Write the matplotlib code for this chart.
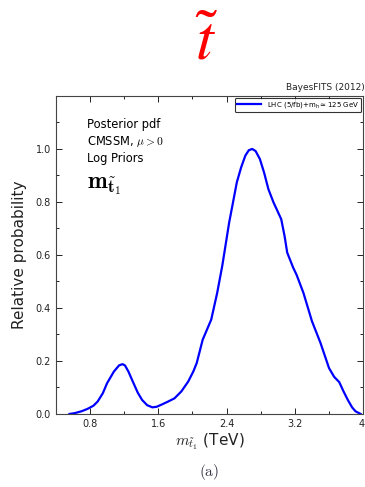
import numpy as np
import matplotlib
matplotlib.use("Agg")
import matplotlib.pyplot as plt
from matplotlib.ticker import MultipleLocator

# stop mass (TeV) and relative posterior probability
m_stop = [0.56, 0.62, 0.70, 0.77, 0.84, 0.89, 0.95, 1.00, 1.08, 1.14, 1.18, 1.21, 1.25,
          1.31, 1.36, 1.41, 1.47, 1.53, 1.58, 1.63, 1.71, 1.79, 1.87, 1.95, 2.01,
          2.05, 2.12, 2.22, 2.29, 2.35, 2.43, 2.52, 2.57, 2.62, 2.66, 2.70, 2.74,
          2.79, 2.84, 2.89, 2.95, 3.04, 3.08, 3.11, 3.18, 3.22, 3.30, 3.40, 3.50,
          3.60, 3.66, 3.72, 3.77, 3.82, 3.87, 3.91, 3.97]
prob = [0.000, 0.003, 0.010, 0.019, 0.031, 0.047, 0.078, 0.116, 0.160, 0.183, 0.188, 0.183, 0.160,
        0.116, 0.080, 0.053, 0.033, 0.025, 0.027, 0.034, 0.046, 0.059, 0.085, 0.122, 0.160,
        0.192, 0.280, 0.356, 0.457, 0.560, 0.722, 0.874, 0.930, 0.975, 0.995, 1.000, 0.992,
        0.962, 0.910, 0.848, 0.798, 0.735, 0.670, 0.609, 0.552, 0.525, 0.457, 0.350, 0.268,
        0.173, 0.140, 0.120, 0.085, 0.053, 0.025, 0.010, 0.000]

xticks = [0.8, 1.6, 2.4, 3.2, 4.0]
xticklabels = ["0.8", "1.6", "2.4", "3.2", "4."]
yticks = [0.0, 0.2, 0.4, 0.6, 0.8, 1.0]

fig = plt.figure(figsize=(3.65, 4.87), dpi=100)
ax = fig.add_axes([0.153, 0.150, 0.842, 0.653])

ax.plot(m_stop, prob, color="#0000ff", lw=1.6, solid_joinstyle="round",
        label=r"LHC (5/fb)+m$_{\rm h}\simeq$125 GeV")

ax.set_xlim(0.4, 4.0)
ax.set_ylim(0.0, 1.2)
ax.set_xticks(xticks)
ax.set_xticklabels(xticklabels)
ax.set_yticks(yticks)
ax.xaxis.set_minor_locator(MultipleLocator(0.4))
ax.yaxis.set_minor_locator(MultipleLocator(0.1))
ax.tick_params(which="both", direction="in", top=True, right=True,
               labelsize=7, labelcolor="#222222", width=0.6)
ax.tick_params(which="major", length=4)
ax.tick_params(which="minor", length=2.5)
for s in ax.spines.values():
    s.set_linewidth(0.8)
    s.set_color("#444444")

ax.set_ylabel("Relative probability", fontsize=11, color="#222222", labelpad=6)
ax.set_xlabel(r"$m_{\tilde{t}_1}$ (TeV)", fontsize=11, color="#222222", labelpad=2,
              math_fontfamily="cm")

leg = ax.legend(loc="upper right", fontsize=5, handlelength=3.5, frameon=True,
                borderpad=0.3, borderaxespad=0.3)
leg.get_frame().set_edgecolor("black")
leg.get_frame().set_linewidth(0.8)

ax.text(0.10, 0.93, "Posterior pdf\nCMSSM, $\\mu>0$\nLog Priors",
        transform=ax.transAxes, fontsize=8.3, va="top", ha="left",
        linespacing=1.3, math_fontfamily="cm")
ax.text(0.10, 0.755, r"$\mathbf{m}_{\tilde{\mathbf{t}}_\mathbf{1}}$",
        transform=ax.transAxes, fontsize=17, va="top", ha="left",
        math_fontfamily="cm")

fig.text(1.0, 0.812, "BayesFITS (2012)", fontsize=6.5, ha="right", va="bottom",
         color="#222222")
fig.text(0.567, 0.914, r"$\tilde{t}$", fontsize=46, color="red",
         ha="center", va="center", math_fontfamily="stix")
fig.text(0.573, 0.030, r"$\mathrm{(a)}$", fontsize=11, ha="center", va="center",
         math_fontfamily="cm", color="#333344")

plt.savefig("out.png", dpi=100)
